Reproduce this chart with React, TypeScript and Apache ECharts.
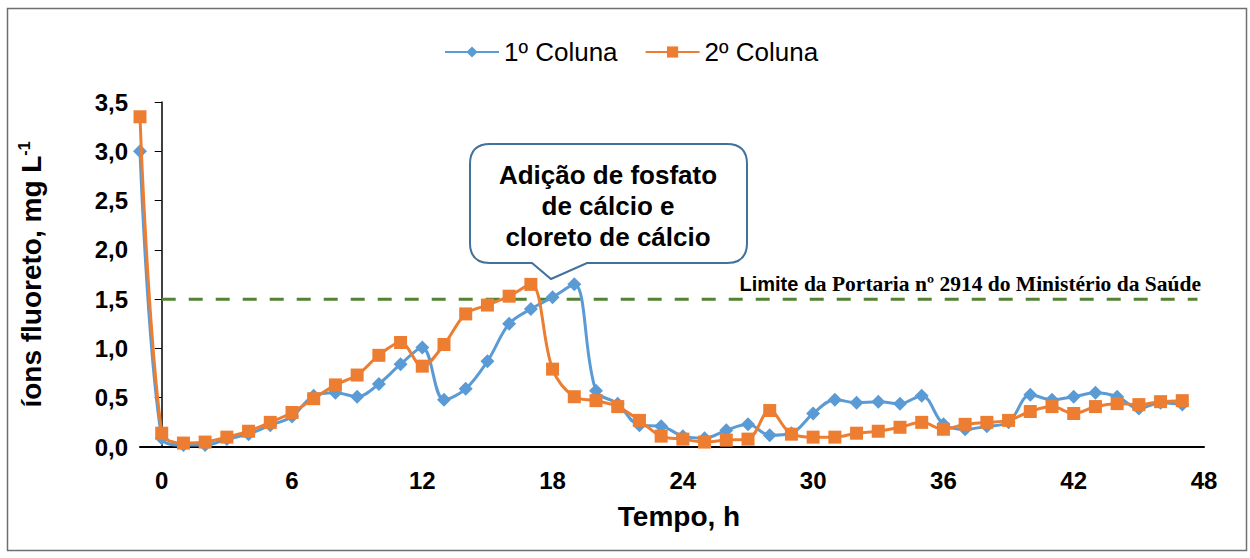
import React, { useEffect, useRef } from 'react';
import * as echarts from 'echarts';

// Sampling hours (h) and fluoride concentrations (mg/L) for each column
const hours = [
  -1, 0, 1, 2, 3, 4, 5, 6, 7, 8, 9, 10, 11, 12, 13, 14, 15, 16, 17, 18, 19, 20, 21, 22, 23, 24,
  25, 26, 27, 28, 29, 30, 31, 32, 33, 34, 35, 36, 37, 38, 39, 40, 41, 42, 43, 44, 45, 46, 47,
];
const coluna1 = [
  3.0, 0.09, 0.02, 0.02, 0.08, 0.13, 0.22, 0.31, 0.52, 0.55, 0.51, 0.64, 0.84, 1.01, 0.48, 0.59,
  0.87, 1.25, 1.4, 1.52, 1.65, 0.57, 0.44, 0.22, 0.21, 0.11, 0.09, 0.17, 0.23, 0.12, 0.14, 0.34,
  0.48, 0.45, 0.46, 0.44, 0.52, 0.23, 0.18, 0.21, 0.25, 0.53, 0.48, 0.51, 0.55, 0.51, 0.39, 0.45,
  0.43,
];
const coluna2 = [
  3.35, 0.14, 0.04, 0.05, 0.1, 0.16, 0.25, 0.35, 0.49, 0.63, 0.73, 0.93, 1.06, 0.82, 1.04, 1.35,
  1.44, 1.53, 1.65, 0.79, 0.51, 0.47, 0.41, 0.27, 0.11, 0.08, 0.05, 0.07, 0.08, 0.37, 0.13, 0.1,
  0.1, 0.14, 0.16, 0.2, 0.25, 0.18, 0.23, 0.25, 0.27, 0.36, 0.41, 0.34, 0.41, 0.44, 0.43, 0.46,
  0.47,
];
// Legal limit (Portaria nº 2914) and the span of hours it is drawn over
const limite = 1.5;
const limiteHoras = [0, 47.7];
const xTickLabels = [0, 6, 12, 18, 24, 30, 36, 42, 48];

const seriesNames = ['1º Coluna', '2º Coluna'];

// Speech-bubble outline for the annotation
const calloutPath =
  'M490 144H727Q747 144 747 164V243Q747 263 727 263H587L551 279L532 263H490Q470 263 470 243V164Q470 144 490 144Z';

export default function App() {
  const ref = useRef<HTMLDivElement>(null);

  useEffect(() => {
    if (!ref.current) return;
    echarts.graphic.registerShape('callout', echarts.graphic.extendPath(calloutPath, {}));
    const chart = echarts.init(ref.current, null, { renderer: 'svg' });

    const font = 'Arial, "Liberation Sans", sans-serif';

    chart.setOption({
      animation: false,
      backgroundColor: '#ffffff',
      textStyle: { fontFamily: font },
      grid: { left: 140, right: 46, top: 102, bottom: 111, containLabel: false },
      legend: {
        data: seriesNames,
        left: 439,
        top: 34,
        itemWidth: 54,
        itemHeight: 14,
        itemGap: 27,
        textStyle: { fontSize: 26, color: '#000', fontFamily: font },
      },
      xAxis: {
        type: 'value',
        min: -1,
        max: 48,
        interval: 1,
        axisLine: { lineStyle: { color: '#000', width: 2 } },
        axisTick: { show: false },
        splitLine: { show: false },
        axisLabel: {
          formatter: (v: number) => (xTickLabels.includes(v) ? String(v) : ''),
          color: '#000',
          fontWeight: 'bold',
          fontSize: 24,
          margin: 21,
          fontFamily: font,
        },
        name: 'Tempo, h',
        nameLocation: 'middle',
        nameGap: 55,
        nameTextStyle: {
          color: '#000',
          fontWeight: 'bold',
          fontSize: 28,
          fontFamily: font,
          padding: [0, 0, 0, 14],
        },
      },
      yAxis: {
        type: 'value',
        min: 0,
        max: 3.5,
        interval: 0.5,
        axisLine: { show: true, lineStyle: { color: '#000', width: 1.5 } },
        axisTick: { show: true, length: 7, lineStyle: { color: '#000', width: 1 } },
        splitLine: { show: false },
        axisLabel: {
          formatter: (v: number) => v.toFixed(1).replace('.', ','),
          color: '#000',
          fontWeight: 'bold',
          fontSize: 24,
          margin: 12,
          fontFamily: font,
        },
        name: '{t|íons fluoreto, mg L}{s|-1}',
        nameLocation: 'middle',
        nameRotate: 90,
        nameGap: 94,
        nameTextStyle: {
          rich: {
            t: { fontSize: 28, fontWeight: 'bold', color: '#000', fontFamily: font },
            s: { fontSize: 16, fontWeight: 'bold', color: '#000', fontFamily: font, verticalAlign: 'top', padding: [0, 0, 14, 0] },
          },
        },
      },
      series: [
        {
          name: 'limite',
          type: 'line',
          data: limiteHoras.map((h) => [h, limite]),
          symbol: 'none',
          silent: true,
          z: 1,
          lineStyle: { color: '#548235', width: 3, type: [14, 13] },
        },
        {
          name: seriesNames[0],
          type: 'line',
          data: hours.map((h, i) => [h, coluna1[i]]),
          smooth: 0.35,
          symbol: 'diamond',
          symbolSize: 14,
          z: 2,
          itemStyle: { color: '#5B9BD5' },
          lineStyle: { color: '#5B9BD5', width: 3 },
        },
        {
          name: seriesNames[1],
          type: 'line',
          data: hours.map((h, i) => [h, coluna2[i]]),
          smooth: 0.35,
          symbol: 'rect',
          symbolSize: 13,
          z: 3,
          itemStyle: { color: '#ED7D31' },
          lineStyle: { color: '#ED7D31', width: 3 },
        },
      ],
      graphic: [
        {
          type: 'rect',
          shape: { x: 7.5, y: 8.5, width: 1239, height: 542 },
          style: { fill: 'none', stroke: '#6f6f6f', lineWidth: 1.5 },
          silent: true,
        },
        {
          type: 'callout',
          x: 0,
          y: 0,
          style: { fill: '#ffffff', stroke: '#41719C', lineWidth: 2 },
          z: 10,
          silent: true,
        },
        {
          type: 'text',
          x: 608,
          y: 206,
          z: 11,
          silent: true,
          style: {
            text: 'Adição de fosfato\nde cálcio e\ncloreto de cálcio',
            align: 'center',
            verticalAlign: 'middle',
            lineHeight: 31,
            fill: '#000',
            font: `bold 26px ${font}`,
          },
        },
        {
          type: 'text',
          x: 1201,
          y: 284,
          z: 11,
          silent: true,
          style: {
            text: '{a|Limite }{b|da Portaria nº 2914 do Ministério da Saúde}',
            align: 'right',
            verticalAlign: 'middle',
            rich: {
              a: { fontFamily: font, fontWeight: 'bold', fontSize: 20, fill: '#000' },
              b: { fontFamily: '"Liberation Serif", "Times New Roman", serif', fontWeight: 'bold', fontSize: 21.5, fill: '#000' },
            },
          },
        },
      ],
    });

    return () => chart.dispose();
  }, []);

  return (
    <div
      ref={ref}
      style={{ position: 'fixed', left: 0, top: 0, width: 1250, height: 558, background: '#fff' }}
    />
  );
}
